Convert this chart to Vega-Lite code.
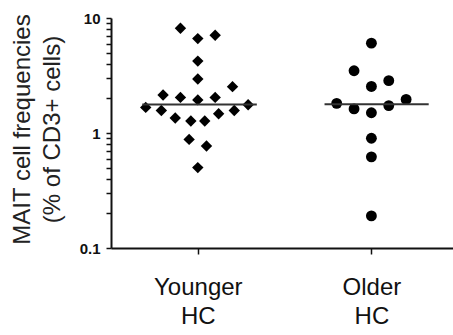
{
  "$schema": "https://vega.github.io/schema/vega-lite/v6.json",
  "width": 342,
  "height": 230,
  "autosize": "none",
  "padding": {"left": 111, "top": 18, "right": 0, "bottom": 87},
  "config": {
    "view": {"stroke": null},
    "font": "Liberation Sans",
    "axis": {"grid": false, "domainColor": "#111", "tickColor": "#111", "labelColor": "#111", "titleColor": "#222"}
  },
  "datasets": {
    "points": [
      {"group": "Younger", "x": 0.90, "v": 8.14},
      {"group": "Younger", "x": 1.00, "v": 6.62},
      {"group": "Younger", "x": 1.10, "v": 7.08},
      {"group": "Younger", "x": 1.00, "v": 4.22},
      {"group": "Younger", "x": 1.00, "v": 2.95},
      {"group": "Younger", "x": 1.20, "v": 2.53},
      {"group": "Younger", "x": 0.80, "v": 2.14},
      {"group": "Younger", "x": 0.90, "v": 2.04},
      {"group": "Younger", "x": 1.00, "v": 1.94},
      {"group": "Younger", "x": 1.10, "v": 2.04},
      {"group": "Younger", "x": 0.70, "v": 1.67},
      {"group": "Younger", "x": 1.29, "v": 1.76},
      {"group": "Younger", "x": 0.79, "v": 1.57},
      {"group": "Younger", "x": 0.87, "v": 1.35},
      {"group": "Younger", "x": 0.96, "v": 1.27},
      {"group": "Younger", "x": 1.04, "v": 1.27},
      {"group": "Younger", "x": 1.12, "v": 1.47},
      {"group": "Younger", "x": 1.21, "v": 1.57},
      {"group": "Younger", "x": 0.95, "v": 0.88},
      {"group": "Younger", "x": 1.05, "v": 0.77},
      {"group": "Younger", "x": 1.00, "v": 0.50},
      {"group": "Older", "x": 2.00, "v": 6.04},
      {"group": "Older", "x": 1.90, "v": 3.48},
      {"group": "Older", "x": 2.10, "v": 2.85},
      {"group": "Older", "x": 2.00, "v": 2.54},
      {"group": "Older", "x": 1.80, "v": 1.81},
      {"group": "Older", "x": 2.20, "v": 1.96},
      {"group": "Older", "x": 1.90, "v": 1.62},
      {"group": "Older", "x": 2.00, "v": 1.50},
      {"group": "Older", "x": 2.10, "v": 1.73},
      {"group": "Older", "x": 2.00, "v": 0.90},
      {"group": "Older", "x": 2.00, "v": 0.62},
      {"group": "Older", "x": 2.00, "v": 0.19}
    ],
    "medians": [
      {"group": "Younger", "x1": 0.68, "x2": 1.34, "median": 1.77},
      {"group": "Older", "x1": 1.73, "x2": 2.33, "median": 1.78}
    ]
  },
  "layer": [
    {
      "data": {"name": "points"},
      "mark": {"type": "point", "filled": true, "opacity": 1, "color": "#000"},
      "encoding": {
        "x": {
          "field": "x", "type": "quantitative",
          "scale": {"domain": [0.5, 2.47], "nice": false, "zero": false},
          "axis": {
            "values": [1, 2],
            "title": null,
            "labelExpr": "datum.value == 1 ? ['Younger', 'HC'] : ['Older', 'HC']",
            "labelFontSize": 24,
            "labelLineHeight": 29,
            "labelPadding": 21,
            "tickSize": 6,
            "tickWidth": 1.5,
            "domainWidth": 2,
            "labelFlush": false,
            "labelOverlap": false
          }
        },
        "y": {
          "field": "v", "type": "quantitative",
          "scale": {"type": "log", "domain": [0.1, 10], "nice": false},
          "axis": {
            "values": [0.1, 0.2, 0.3, 0.4, 0.5, 0.6, 0.7, 0.8, 0.9, 1, 2, 3, 4, 5, 6, 7, 8, 9, 10],
            "labelExpr": "datum.value == 0.1 ? '0.1' : datum.value == 1 ? '1' : datum.value == 10 ? '10' : ''",
            "labelFontSize": 15,
            "labelFontWeight": "bold",
            "labelPadding": 6,
            "labelOverlap": false,
            "labelFlush": false,
            "tickSize": 5,
            "tickWidth": 1.5,
            "domainWidth": 2,
            "title": ["MAIT cell frequencies", "(% of CD3+ cells)"],
            "titleFontSize": 24,
            "titleFontWeight": "normal",
            "titleLineHeight": 30,
            "titleX": -77,
            "titleY": 111
          }
        },
        "shape": {"field": "group", "type": "nominal", "scale": {"domain": ["Younger", "Older"], "range": ["diamond", "circle"]}, "legend": null},
        "size": {"field": "group", "type": "nominal", "scale": {"domain": ["Younger", "Older"], "range": [130, 118]}, "legend": null}
      }
    },
    {
      "data": {"name": "medians"},
      "mark": {"type": "rule", "color": "#333", "strokeWidth": 2},
      "encoding": {
        "x": {"field": "x1", "type": "quantitative"},
        "x2": {"field": "x2"},
        "y": {"field": "median", "type": "quantitative"}
      }
    }
  ]
}
